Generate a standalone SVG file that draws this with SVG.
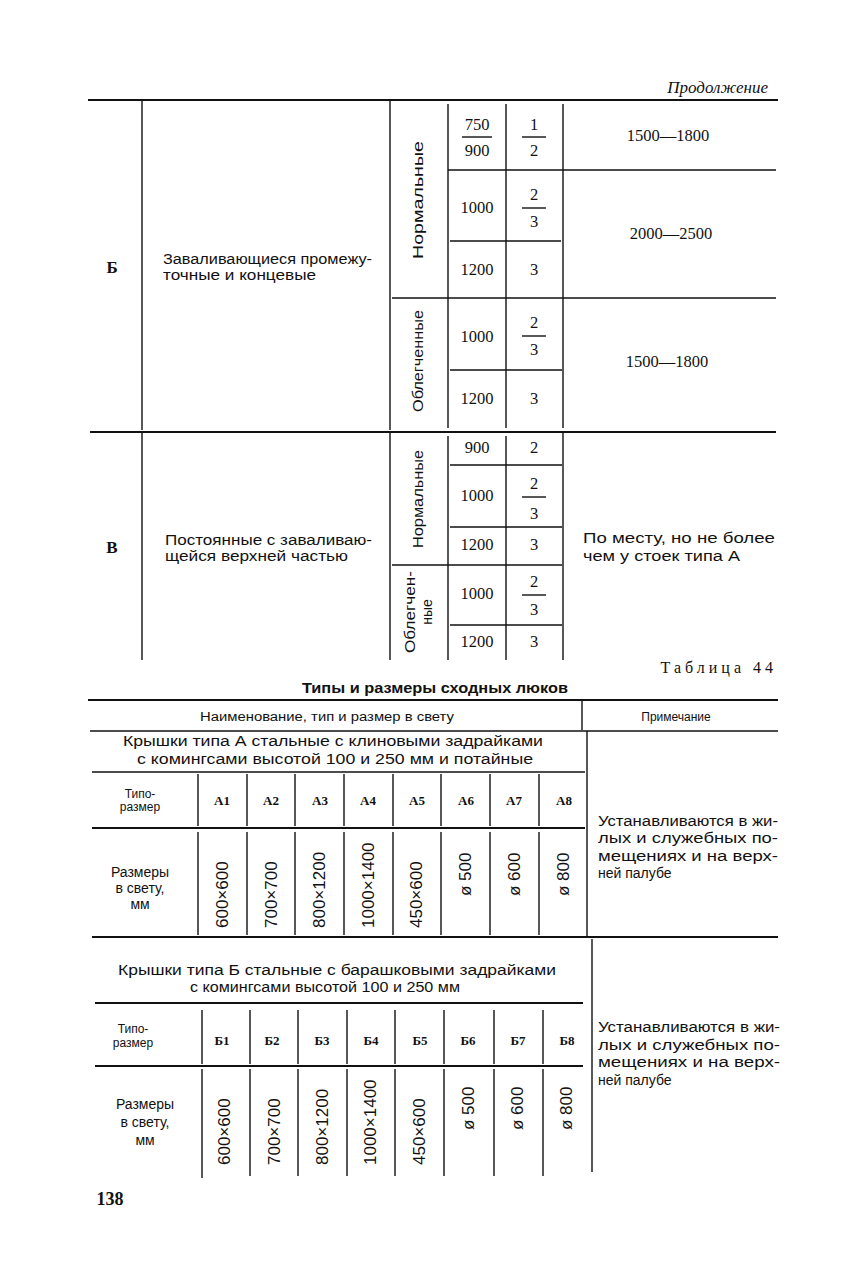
<svg xmlns="http://www.w3.org/2000/svg" width="850" height="1275" viewBox="0 0 850 1275">
<style>
.bg{fill:#fff}
.l{stroke:#111;stroke-width:1.4;fill:none}
.t{stroke:#111;stroke-width:2.2;fill:none}
.n{font-family:"Liberation Serif",serif;font-size:16.5px;fill:#111;text-anchor:middle}
.s{font-family:"Liberation Sans",sans-serif;font-size:14px;fill:#111}
.c{text-anchor:middle}
.r{font-family:"Liberation Sans",sans-serif;font-size:17px;fill:#111}
.sm{font-family:"Liberation Sans",sans-serif;font-size:12px;fill:#111;text-anchor:middle}
.lab{font-family:"Liberation Serif",serif;font-size:13px;font-weight:bold;fill:#111;text-anchor:middle}
.fr{stroke:#111;stroke-width:1.4}
</style>
<rect class="bg" width="850" height="1275"/>
<text x="768" y="93" font-family="Liberation Serif,serif" font-style="italic" font-size="17" fill="#111" text-anchor="end">Продолжение</text>

<g id="connectors">
<line class="t" x1="88" y1="100" x2="778" y2="100"/>
<line class="l" x1="142" y1="100" x2="142" y2="430"/>
<line class="l" x1="390" y1="100" x2="390" y2="430"/>
<line class="l" x1="448" y1="104" x2="448" y2="428"/>
<line class="l" x1="506" y1="104" x2="506" y2="428"/>
<line class="l" x1="563" y1="104" x2="563" y2="428"/>
<line class="l" x1="448" y1="170" x2="776" y2="170"/>
<line class="l" x1="450" y1="241" x2="561" y2="241"/>
<line class="l" x1="392" y1="298" x2="776" y2="298"/>
<line class="l" x1="450" y1="370" x2="562" y2="370"/>
<line class="t" x1="90" y1="432" x2="776" y2="432"/>
<line class="l" x1="142" y1="432" x2="142" y2="660"/>
<line class="l" x1="390" y1="432" x2="390" y2="660"/>
<line class="l" x1="448" y1="436" x2="448" y2="660"/>
<line class="l" x1="506" y1="436" x2="506" y2="660"/>
<line class="l" x1="563" y1="432" x2="563" y2="660"/>
<line class="l" x1="450" y1="465" x2="562" y2="465"/>
<line class="l" x1="450" y1="527" x2="562" y2="527"/>
<line class="l" x1="392" y1="565" x2="562" y2="565"/>
<line class="l" x1="450" y1="625" x2="562" y2="625"/>
<line class="fr" x1="462" y1="137" x2="492" y2="137"/>
<line class="fr" x1="522" y1="137" x2="546" y2="137"/>
<line class="fr" x1="522" y1="208" x2="546" y2="208"/>
<line class="fr" x1="522" y1="336" x2="546" y2="336"/>
<line class="fr" x1="522" y1="497" x2="546" y2="497"/>
<line class="fr" x1="522" y1="595" x2="546" y2="595"/>
<line class="t" x1="88" y1="700" x2="778" y2="700"/>
<line class="l" x1="582" y1="700" x2="582" y2="730"/>
<line class="l" x1="90" y1="731" x2="778" y2="731"/>
<line class="l" x1="587" y1="731" x2="587" y2="936"/>
<line class="l" x1="92" y1="772" x2="585" y2="772"/>
<line class="t" x1="92" y1="828" x2="585" y2="828"/>
<line class="t" x1="92" y1="937" x2="778" y2="937"/>
<g class="l">
<line x1="198" y1="774" x2="198" y2="826"/><line x1="247" y1="774" x2="247" y2="826"/>
<line x1="295" y1="774" x2="295" y2="826"/><line x1="344" y1="774" x2="344" y2="826"/>
<line x1="393" y1="774" x2="393" y2="826"/><line x1="441" y1="774" x2="441" y2="826"/>
<line x1="490" y1="774" x2="490" y2="826"/><line x1="539" y1="774" x2="539" y2="826"/>
<line x1="198" y1="832" x2="198" y2="935"/><line x1="247" y1="832" x2="247" y2="935"/>
<line x1="295" y1="832" x2="295" y2="935"/><line x1="344" y1="832" x2="344" y2="935"/>
<line x1="393" y1="832" x2="393" y2="935"/><line x1="441" y1="832" x2="441" y2="935"/>
<line x1="490" y1="832" x2="490" y2="935"/><line x1="539" y1="832" x2="539" y2="935"/>
</g>
<line class="l" x1="592" y1="939" x2="592" y2="1172"/>
<line class="t" x1="95" y1="1003" x2="583" y2="1003"/>
<line class="t" x1="95" y1="1066" x2="583" y2="1066"/>
<g class="l">
<line x1="202" y1="1010" x2="202" y2="1064"/><line x1="250" y1="1010" x2="250" y2="1064"/>
<line x1="298" y1="1010" x2="298" y2="1064"/><line x1="347" y1="1010" x2="347" y2="1064"/>
<line x1="395" y1="1010" x2="395" y2="1064"/><line x1="444" y1="1010" x2="444" y2="1064"/>
<line x1="494" y1="1010" x2="494" y2="1064"/><line x1="543" y1="1010" x2="543" y2="1064"/>
<line x1="202" y1="1069" x2="202" y2="1178"/><line x1="250" y1="1069" x2="250" y2="1176"/>
<line x1="298" y1="1069" x2="298" y2="1176"/><line x1="347" y1="1069" x2="347" y2="1176"/>
<line x1="395" y1="1069" x2="395" y2="1176"/><line x1="444" y1="1069" x2="444" y2="1176"/>
<line x1="494" y1="1069" x2="494" y2="1176"/><line x1="543" y1="1069" x2="543" y2="1176"/>
</g>
</g>

<g id="section-b">
<text x="112" y="273" font-family="Liberation Serif,serif" font-weight="bold" font-size="17" fill="#111" text-anchor="middle">Б</text>
<text class="s" x="163" y="264" textLength="209" lengthAdjust="spacingAndGlyphs">Заваливающиеся промежу-</text>
<text class="s" x="163" y="280" textLength="153" lengthAdjust="spacingAndGlyphs">точные и концевые</text>
<text class="s c" font-size="15" transform="translate(423,200) rotate(-90)" textLength="118" lengthAdjust="spacingAndGlyphs">Нормальные</text>
<text class="s c" font-size="15" transform="translate(423,361) rotate(-90)" textLength="102" lengthAdjust="spacingAndGlyphs">Облегченные</text>
<text class="n" x="477" y="130">750</text><text class="n" x="477" y="156">900</text>
<text class="n" x="534" y="130">1</text><text class="n" x="534" y="156">2</text>
<text class="n" x="477" y="213">1000</text>
<text class="n" x="534" y="200">2</text><text class="n" x="534" y="227">3</text>
<text class="n" x="477" y="275">1200</text><text class="n" x="534" y="275">3</text>
<text class="n" x="477" y="342">1000</text>
<text class="n" x="534" y="328">2</text><text class="n" x="534" y="355">3</text>
<text class="n" x="477" y="404">1200</text><text class="n" x="534" y="404">3</text>
<text class="n" x="668" y="141">1500—1800</text>
<text class="n" x="671" y="239">2000—2500</text>
<text class="n" x="667" y="367">1500—1800</text>
</g>

<g id="section-v">
<text x="112" y="553" font-family="Liberation Serif,serif" font-weight="bold" font-size="17" fill="#111" text-anchor="middle">В</text>
<text class="s" x="165" y="545" textLength="207" lengthAdjust="spacingAndGlyphs">Постоянные с заваливаю-</text>
<text class="s" x="165" y="561" textLength="183" lengthAdjust="spacingAndGlyphs">щейся верхней частью</text>
<text class="s c" font-size="15" transform="translate(423,499) rotate(-90)" textLength="98" lengthAdjust="spacingAndGlyphs">Нормальные</text>
<text class="s c" font-size="15" transform="translate(415,612) rotate(-90)" textLength="82" lengthAdjust="spacingAndGlyphs">Облегчен-</text>
<text class="s c" font-size="15" transform="translate(432,612) rotate(-90)">ные</text>
<text class="n" x="477" y="453">900</text><text class="n" x="534" y="453">2</text>
<text class="n" x="477" y="501">1000</text>
<text class="n" x="534" y="489">2</text><text class="n" x="534" y="519">3</text>
<text class="n" x="477" y="550">1200</text><text class="n" x="534" y="550">3</text>
<text class="n" x="477" y="599">1000</text>
<text class="n" x="534" y="587">2</text><text class="n" x="534" y="615">3</text>
<text class="n" x="477" y="647">1200</text><text class="n" x="534" y="647">3</text>
<text class="s" x="583" y="543" textLength="192" lengthAdjust="spacingAndGlyphs">По месту, но не более</text>
<text class="s" x="583" y="561" textLength="157" lengthAdjust="spacingAndGlyphs">чем у стоек типа А</text>
</g>

<g id="table44-title">
<text x="777" y="673" font-family="Liberation Serif,serif" font-size="16" fill="#111" text-anchor="end" letter-spacing="4">Таблица 44</text>
<text x="435" y="693" font-family="Liberation Sans,sans-serif" font-weight="bold" font-size="14" fill="#111" text-anchor="middle" textLength="266" lengthAdjust="spacingAndGlyphs">Типы и размеры сходных люков</text>
</g>

<g id="table44-header">
<text class="sm" x="327" y="721" textLength="254" lengthAdjust="spacingAndGlyphs">Наименование, тип и размер в свету</text>
<text class="sm" x="676" y="721">Примечание</text>
</g>

<g id="group-a">
<text class="s c" x="333" y="746" font-size="16" textLength="420" lengthAdjust="spacingAndGlyphs">Крышки типа А стальные с клиновыми задрайками</text>
<text class="s c" x="335" y="764" font-size="16" textLength="396" lengthAdjust="spacingAndGlyphs">с комингсами высотой 100 и 250 мм и потайные</text>
<text class="sm" x="140" y="798">Типо-</text>
<text class="sm" x="140" y="811">размер</text>
<text class="lab" x="222" y="805">А1</text><text class="lab" x="271" y="805">А2</text>
<text class="lab" x="320" y="805">А3</text><text class="lab" x="368" y="805">А4</text>
<text class="lab" x="417" y="805">А5</text><text class="lab" x="466" y="805">А6</text>
<text class="lab" x="514" y="805">А7</text><text class="lab" x="564" y="805">А8</text>
<text class="s c" x="140" y="877" font-size="15">Размеры</text>
<text class="s c" x="140" y="893" font-size="15">в свету,</text>
<text class="s c" x="140" y="909" font-size="15">мм</text>
<text class="r" transform="translate(228,928) rotate(-90)">600×600</text>
<text class="r" transform="translate(277,928) rotate(-90)">700×700</text>
<text class="r" transform="translate(325,928) rotate(-90)">800×1200</text>
<text class="r" transform="translate(374,928) rotate(-90)">1000×1400</text>
<text class="r" transform="translate(422,928) rotate(-90)">450×600</text>
<text class="r" transform="translate(471,896) rotate(-90)">ø 500</text>
<text class="r" transform="translate(520,896) rotate(-90)">ø 600</text>
<text class="r" transform="translate(569,896) rotate(-90)">ø 800</text>
<text class="s" x="598" y="826" textLength="180" lengthAdjust="spacingAndGlyphs">Устанавливаются в жи-</text>
<text class="s" x="598" y="843" textLength="180" lengthAdjust="spacingAndGlyphs">лых и служебных по-</text>
<text class="s" x="598" y="861" textLength="180" lengthAdjust="spacingAndGlyphs">мещениях и на верх-</text>
<text class="s" x="598" y="878">ней палубе</text>
</g>

<g id="group-b">
<text class="s c" x="337" y="975" font-size="16" textLength="438" lengthAdjust="spacingAndGlyphs">Крышки типа Б стальные с барашковыми задрайками</text>
<text class="s c" x="325" y="992" font-size="16" textLength="270" lengthAdjust="spacingAndGlyphs">с комингсами высотой 100 и 250 мм</text>
<text class="sm" x="133" y="1033">Типо-</text>
<text class="sm" x="133" y="1047">размер</text>
<text class="lab" x="222" y="1045">Б1</text><text class="lab" x="272" y="1045">Б2</text>
<text class="lab" x="322" y="1045">Б3</text><text class="lab" x="371" y="1045">Б4</text>
<text class="lab" x="420" y="1045">Б5</text><text class="lab" x="468" y="1045">Б6</text>
<text class="lab" x="518" y="1045">Б7</text><text class="lab" x="567" y="1045">Б8</text>
<text class="s c" x="145" y="1109" font-size="15">Размеры</text>
<text class="s c" x="145" y="1127" font-size="15">в свету,</text>
<text class="s c" x="145" y="1145" font-size="15">мм</text>
<text class="r" transform="translate(230,1165) rotate(-90)">600×600</text>
<text class="r" transform="translate(280,1165) rotate(-90)">700×700</text>
<text class="r" transform="translate(328,1165) rotate(-90)">800×1200</text>
<text class="r" transform="translate(376,1165) rotate(-90)">1000×1400</text>
<text class="r" transform="translate(425,1165) rotate(-90)">450×600</text>
<text class="r" transform="translate(474,1130) rotate(-90)">ø 500</text>
<text class="r" transform="translate(523,1130) rotate(-90)">ø 600</text>
<text class="r" transform="translate(572,1130) rotate(-90)">ø 800</text>
<text class="s" x="598" y="1032" textLength="182" lengthAdjust="spacingAndGlyphs">Устанавливаются в жи-</text>
<text class="s" x="598" y="1050" textLength="182" lengthAdjust="spacingAndGlyphs">лых и служебных по-</text>
<text class="s" x="598" y="1067" textLength="182" lengthAdjust="spacingAndGlyphs">мещениях и на верх-</text>
<text class="s" x="598" y="1085">ней палубе</text>
</g>

<text x="110" y="1205" font-family="Liberation Serif,serif" font-weight="bold" font-size="18" fill="#111" text-anchor="middle">138</text>
</svg>
